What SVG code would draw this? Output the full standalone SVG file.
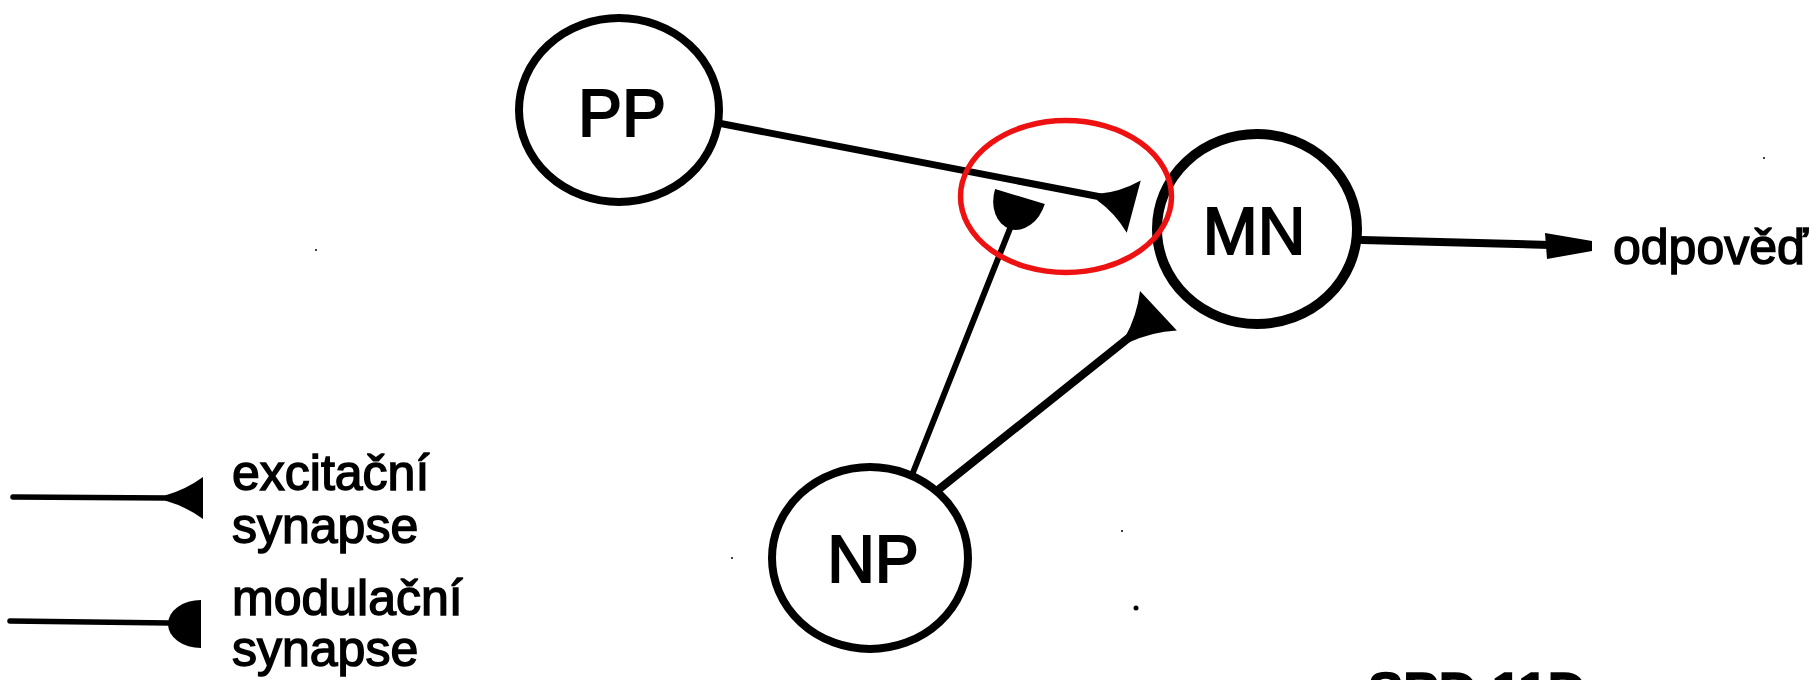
<svg xmlns="http://www.w3.org/2000/svg" width="1820" height="680" viewBox="0 0 1820 680">
  <style>
    .node { fill: #fff; stroke: #000; }
    .lbl { font-family: "Liberation Sans", Arial, sans-serif; fill: #000; stroke: #000; stroke-width: 1.5; }
    .big { font-size: 66px; text-anchor: middle; stroke-width: 2; }
    .leg { font-size: 50px; }
    .wire { stroke: #000; fill: none; stroke-linecap: round; }
    .syn { fill: #000; stroke: none; }
    .speck { fill: #000; }
  </style>
  <defs>
    <path id="exc" d="M0,-0.12 Q0.55,-0.4 1,-1 L1,1 Q0.55,0.4 0,0.12 Z"/>
    <path id="mod" d="M1,-1 A1,1 0 0 0 0,0 A1,1 0 0 0 1,1 Z"/>
  </defs>
  <rect width="1820" height="680" fill="#fff"/>

  <g id="connectors">
    <line class="wire" x1="718" y1="123" x2="1101" y2="197" stroke-width="7"/>
    <use href="#exc" class="syn" transform="translate(1098,197) rotate(15) scale(37,27)"/>
    <line class="wire" x1="912" y1="475" x2="1011" y2="226" stroke-width="6"/>
    <use href="#mod" class="syn" transform="translate(1010,229) rotate(-73) scale(34,26)"/>
    <line class="wire" x1="938" y1="490" x2="1131" y2="336" stroke-width="8"/>
    <use href="#exc" class="syn" transform="translate(1127,340) rotate(-43) scale(43,27)"/>
    <line class="wire" x1="1362" y1="240" x2="1550" y2="245" stroke-width="8"/>
    <polygon class="syn" points="1545,233 1592,241 1592,251 1547,259"/>
  </g>

  <g id="node-PP">
    <ellipse class="node" cx="619" cy="110" rx="100" ry="92" stroke-width="8"/>
    <text class="lbl big" x="622" y="136">PP</text>
  </g>
  <g id="node-MN">
    <ellipse class="node" cx="1257" cy="229" rx="100" ry="95" stroke-width="10"/>
    <text class="lbl big" x="1254" y="254">MN</text>
  </g>
  <g id="node-NP">
    <ellipse class="node" cx="870" cy="558" rx="98" ry="91" stroke-width="8"/>
    <text class="lbl big" x="873" y="582">NP</text>
  </g>

  <g id="output-label">
    <text class="lbl leg" x="1613" y="264">odpověď</text>
  </g>

  <g id="legend">
    <line class="wire" x1="13" y1="497" x2="168" y2="498" stroke-width="5.5"/>
    <use href="#exc" class="syn" transform="translate(165,498) scale(38,21)"/>
    <line class="wire" x1="10" y1="621" x2="170" y2="623" stroke-width="5.5"/>
    <use href="#mod" class="syn" transform="translate(168,624) scale(33,24)"/>
    <text class="lbl leg" x="232" y="490">excitační</text>
    <text class="lbl leg" x="232" y="543">synapse</text>
    <text class="lbl leg" x="232" y="615">modulační</text>
    <text class="lbl leg" x="232" y="666">synapse</text>
  </g>

  <g id="caption">
    <text class="lbl" x="1368" y="710" font-size="53px" font-weight="bold">SPD 11D</text>
  </g>

  <g id="specks">
    <circle class="speck" cx="1136" cy="608" r="2.5"/>
    <circle class="speck" cx="1122" cy="531" r="1"/>
    <circle class="speck" cx="316" cy="250" r="1"/>
    <circle class="speck" cx="732" cy="558" r="1"/>
    <circle class="speck" cx="1764" cy="158" r="1"/>
  </g>

  <g id="highlight">
    <ellipse cx="1066" cy="196.5" rx="105.5" ry="76" fill="none" stroke="#ee1111" stroke-width="5.5"/>
  </g>
</svg>
